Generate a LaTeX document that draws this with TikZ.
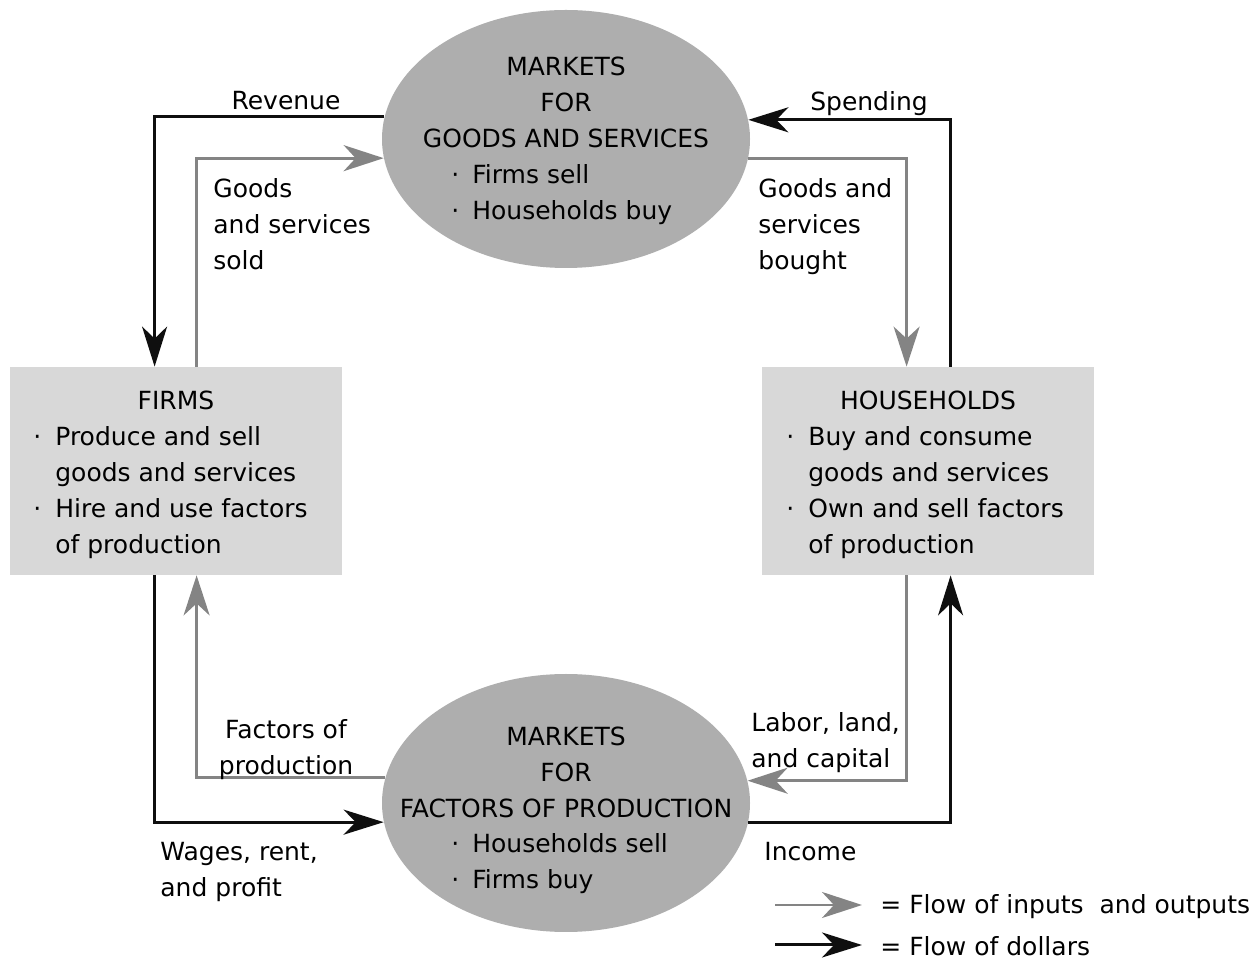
\documentclass[tikz,border=0pt]{standalone}
\usepackage{fontspec}
\setmainfont{DejaVu Sans}
\usetikzlibrary{arrows.meta,shapes.geometric}
\definecolor{ellgray}{RGB}{174,174,174}
\definecolor{boxgray}{RGB}{216,216,216}
\definecolor{flowgray}{RGB}{132,132,132}
\definecolor{dollarblack}{RGB}{15,15,15}
\begin{document}
\begin{tikzpicture}[x=0.5pt,y=-0.5pt,
  every node/.style={font=\fontsize{12.5}{18}\selectfont, inner sep=0pt, text=black},
  market/.style={ellipse, fill=ellgray, minimum width=184pt, minimum height=129pt},
  agent/.style={rectangle, fill=boxgray, minimum width=166pt, minimum height=104pt},
  dollar/.style={draw=dollarblack, line width=1.5pt, -{Stealth[length=20pt,width=12.5pt,inset=6pt]}},
  goods/.style={draw=flowgray, line width=1.35pt, -{Stealth[length=20pt,width=13pt,inset=6pt]}},
  lbl/.style={align=left},
  bullets/.style={anchor=west, align=left},
]
\useasboundingbox (0,0) rectangle (1259,961);
\fill[white] (0,0) rectangle (1259,961);

% main shapes
\node[market] (mg) at (566,139) {};
\node[market] (mf) at (566,803) {};
\node[agent] (firms) at (176,471) {};
\node[agent] (hh) at (928,471) {};

% texts inside shapes
\node[align=center] (mgt) at (566,102) {MARKETS\\FOR\\GOODS AND SERVICES};
\node[bullets] (mgb) at (451,194) {\begin{tabular}{@{}l@{\hspace{6.5pt}}l@{}}·&Firms sell\\·&Households buy\end{tabular}};
\node[align=center] (mft) at (566,772) {MARKETS\\FOR\\FACTORS OF PRODUCTION};
\node[bullets] (mfb) at (451,863) {\begin{tabular}{@{}l@{\hspace{6.5pt}}l@{}}·&Households sell\\·&Firms buy\end{tabular}};
\node (firmst) at (176,400) {FIRMS};
\node[bullets] (firmsb) at (33,492) {\begin{tabular}{@{}l@{\hspace{7pt}}l@{}}·&Produce and sell\\&goods and services\\·&Hire and use factors\\&of production\end{tabular}};
\node (hht) at (928,400) {HOUSEHOLDS};
\node[bullets] (hhb) at (786,492) {\begin{tabular}{@{}l@{\hspace{7pt}}l@{}}·&Buy and consume\\&goods and services\\·&Own and sell factors\\&of production\end{tabular}};

% connectors: goods market
\draw[dollar] (mg.173.1) -| ([xshift=72.5pt]firms.north west);
\draw[goods] ([xshift=93.5pt]firms.north west) |- (mg.186.6);
\draw[dollar] ([xshift=94.5pt]hh.north west) |- (mg.6.9);
\draw[goods] (mg.-6.6) -| ([xshift=72.5pt]hh.north west);

% connectors: factor market
\draw[dollar] ([xshift=72.5pt]firms.south west) |- (mf.186.9);
\draw[goods] (mf.172.8) -| ([xshift=93.5pt]firms.south west);
\draw[goods] ([xshift=72.5pt]hh.south west) |- (mf.7.2);
\draw[dollar] (mf.-6.9) -| ([xshift=94.5pt]hh.south west);

% flow labels
\node (rev) at (286,101) {Revenue};
\node (spend) at (869,104) {Spending};
\node[lbl, anchor=west] (gss) at (213,224) {Goods\\and services\\sold};
\node[lbl, anchor=west] (gsb) at (758,227) {Goods and\\services\\bought};
\node[align=center] (fop) at (286,750) {Factors of\\production};
\node[lbl, anchor=west] (llc) at (751,743) {Labor, land,\\and capital};
\node[lbl, anchor=west] (wrp) at (160,872) {Wages, rent,\\and profit};
\node[anchor=west] (inc) at (764,852) {Income};

% legend
\coordinate (lga) at (775,905);
\coordinate (lgb) at (862,905);
\coordinate (lda) at (775,945);
\coordinate (ldb) at (862,945);
\draw[goods] (lga) -- (lgb);
\draw[dollar] (lda) -- (ldb);
\node[anchor=west] (lgt) at (880,907) {= Flow of inputs\ \ and outputs};
\node[anchor=west] (ldt) at (880,946) {= Flow of dollars};
\end{tikzpicture}
\end{document}
